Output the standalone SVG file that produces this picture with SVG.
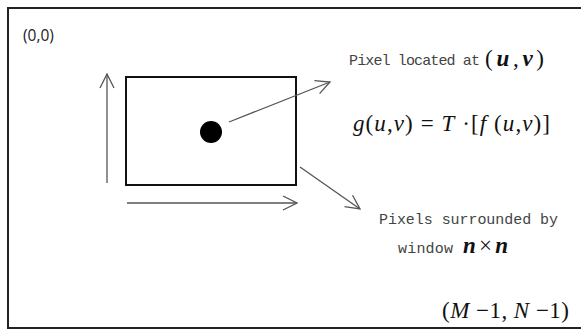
<svg xmlns="http://www.w3.org/2000/svg" width="581" height="335" viewBox="0 0 581 335">
<defs>
<style>
.frame{fill:none;stroke:#222;stroke-width:2}
.win{fill:none;stroke:#111;stroke-width:2}
.arr{fill:none;stroke:#555;stroke-width:1.3;marker-end:url(#open)}
.mono{font-family:"Liberation Mono",monospace;font-size:15px;fill:#444}
.math{font-family:"Liberation Serif",serif;font-size:23px;fill:#111}
.sans{font-family:"Open Sans","Liberation Sans",sans-serif;font-size:15.5px;fill:#222}
.it{font-style:italic}
.bi{font-style:italic;font-weight:bold}
</style>
<marker id="open" viewBox="0 0 16 16" refX="15" refY="8" markerWidth="16" markerHeight="16" markerUnits="userSpaceOnUse" orient="auto">
<path d="M1,1 L15,8 L1,15" fill="none" stroke="#555" stroke-width="1.3"/>
</marker>
</defs>
<path class="frame" d="M590,8 L8,8 L8,328 L590,328"/>
<text class="sans" x="23" y="41">(0,0)</text>
<g id="window">
<rect class="win" x="126" y="77" width="170" height="108"/>
</g>
<g id="pixel">
<circle cx="211" cy="132" r="11" fill="#000"/>
</g>
<g id="connectors">
<line class="arr" x1="107" y1="183" x2="107" y2="74"/>
<line class="arr" x1="127" y1="203" x2="297" y2="203"/>
<line class="arr" x1="229" y1="122" x2="330" y2="82"/>
<line class="arr" x1="300" y1="167" x2="360" y2="209"/>
</g>
<g id="label-pixel">
<text class="mono" x="349" y="65" textLength="131" lengthAdjust="spacing">Pixel located at</text>
<text class="math" x="485" y="66" font-size="24" textLength="59" lengthAdjust="spacing">(<tspan class="bi">u</tspan>,<tspan class="bi">v</tspan>)</text>
</g>
<g id="formula">
<text class="math" x="353" y="131" textLength="197" lengthAdjust="spacing"><tspan class="it">g</tspan>(<tspan class="it">u</tspan>,<tspan class="it">v</tspan>) = <tspan class="it">T</tspan> ·[<tspan class="it">f</tspan> (<tspan class="it">u</tspan>,<tspan class="it">v</tspan>)]</text>
</g>
<g id="label-window">
<text class="mono" x="379" y="224" textLength="179" lengthAdjust="spacing">Pixels surrounded by</text>
<text class="mono" x="398" y="253" textLength="55" lengthAdjust="spacing">window</text>
<text class="math" x="463" y="253" textLength="45" lengthAdjust="spacing"><tspan class="bi">n</tspan>×<tspan class="bi">n</tspan></text>
</g>
<g id="corner">
<text class="math" x="442" y="318" font-size="22" textLength="127" lengthAdjust="spacing">(<tspan class="it">M</tspan> −1, <tspan class="it">N</tspan> −1)</text>
</g>
</svg>
